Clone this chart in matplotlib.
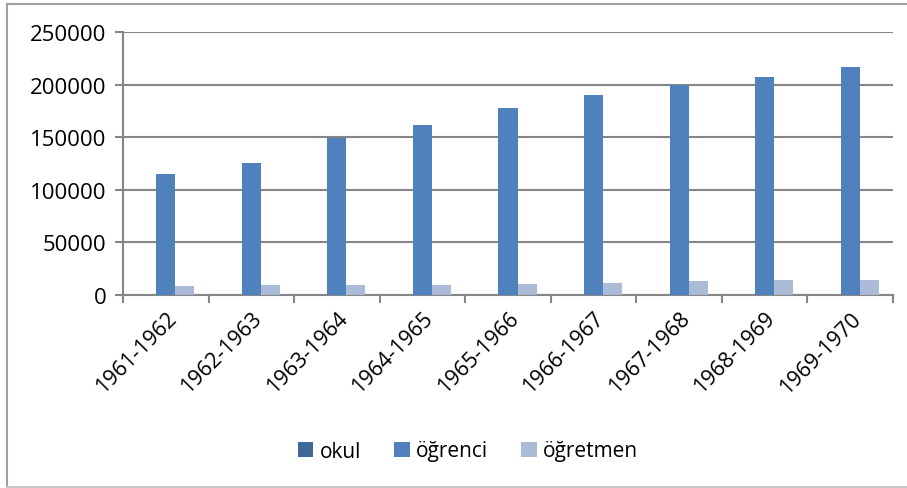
import numpy as np
import matplotlib
matplotlib.use("Agg")
from matplotlib import pyplot as plt
from matplotlib.lines import Line2D

donemler = ["1961-1962", "1962-1963", "1963-1964", "1964-1965", "1965-1966",
            "1966-1967", "1967-1968", "1968-1969", "1969-1970"]
okul = [150, 160, 170, 180, 190, 200, 210, 220, 230]
ogrenci = [115000, 125500, 149000, 162000, 177500, 190500, 200000, 207000, 216700]
ogretmen = [8600, 9200, 9500, 9800, 10500, 11100, 13000, 14300, 14300]

renkler = ["#3F6797", "#4F81BD", "#AABAD7"]
etiketler = ["okul", "öğrenci", "öğretmen"]

plt.rcParams['font.family'] = ['Open Sans', 'DejaVu Sans']

fig = plt.figure(figsize=(9.07, 4.89), dpi=100)
ax = fig.add_axes([123/907, 1-296/489, (893-123)/907, (296-33)/489])

x = np.arange(len(donemler))
w = 1/4.5
for i, seri in enumerate([okul, ogrenci, ogretmen]):
    ax.bar(x + (i-1)*w, seri, w, color=renkler[i], label=etiketler[i], zorder=3)

ax.set_xlim(-0.5, len(donemler)-0.5)
ax.set_ylim(0, 250000)
ax.set_yticks(range(0, 250001, 50000))
ax.set_yticklabels([str(v) for v in range(0, 250001, 50000)], fontsize=16)
ax.set_xticks(x)
ax.set_xticklabels(donemler, rotation=45, ha="right", rotation_mode="anchor", fontsize=15.5)
ax.tick_params(axis="x", length=0, pad=9)
ax.tick_params(axis="y", length=6, color="#868686", width=1.5, pad=6)
ax.grid(axis="y", color="#868686", linewidth=1.5, zorder=0)
for s in ["top", "right"]:
    ax.spines[s].set_visible(False)
ax.spines["left"].set_color("#868686")
ax.spines["bottom"].set_color("#868686")
ax.spines["left"].set_linewidth(1.5)
ax.spines["bottom"].set_linewidth(1.5)
# ara tik cizgileri
for k in range(len(donemler)+1):
    ax.plot([k-0.5, k-0.5], [0, -0.025], transform=ax.get_xaxis_transform(),
            color="#868686", lw=1.5, clip_on=False)

ax.legend(loc="center", bbox_to_anchor=((468-123)/770, -(452-296)/263), ncol=3, frameon=False,
          fontsize=15, handlelength=0.75, handleheight=0.75, handletextpad=0.3, columnspacing=1.6)

# grafik cercevesi
fig.add_artist(Line2D([7/907, 7/907], [1-5/489, 1-488/489], color="#A0A0A0", lw=1.5))
fig.add_artist(Line2D([7/907, 1], [1-5/489, 1-5/489], color="#A0A0A0", lw=1.5))
fig.add_artist(Line2D([7/907, 1], [1-488/489, 1-488/489], color="#C8C8C8", lw=1.5))

fig.savefig("out.png", dpi=100)
